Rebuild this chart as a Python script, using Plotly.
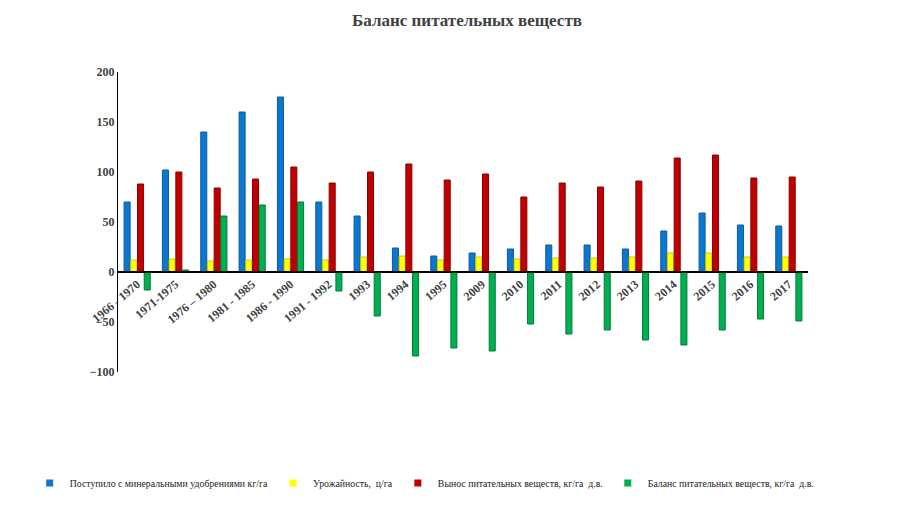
import plotly.graph_objects as go

categories = ["1966 - 1970", "1971-1975", "1976 – 1980", "1981 - 1985", "1986 - 1990",
              "1991 - 1992", "1993", "1994", "1995", "2009", "2010", "2011", "2012",
              "2013", "2014", "2015", "2016", "2017"]
applied = [70, 102, 140, 160, 175, 70, 56, 24, 16, 19, 23, 27, 27, 23, 41, 59, 47, 46]
yield_cha = [12, 13, 11, 12, 13, 12, 15, 16, 12, 15, 13, 14, 14, 15, 19, 19, 15, 15]
removal = [88, 100, 84, 93, 105, 89, 100, 108, 92, 98, 75, 89, 85, 91, 114, 117, 94, 95]
balance = [-18, 2, 56, 67, 70, -19, -44, -84, -76, -79, -52, -62, -58, -68, -73, -58, -47, -49]

names = ["Поступило с минеральными удобрениями кг/га", "Урожайность,  ц/га",
         "Вынос питательных веществ, кг/га  д.в.", "Баланс питательных веществ, кг/га  д.в."]
colors = ["#0B78D0", "#FFFF00", "#C00000", "#00B050"]
edges = ["#0A5A9C", "#C8C800", "#8A0000", "#007A38"]
series = [applied, yield_cha, removal, balance]

SERIF = "Liberation Serif"

fig = go.Figure()
for n, vals, c, e in zip(names, series, colors, edges):
    fig.add_trace(go.Bar(x=categories, y=vals, name=n, showlegend=False,
                         marker=dict(color=c, line=dict(color=e, width=1))))
# legend entries with small square keys
for n, c in zip(names, colors):
    fig.add_trace(go.Scatter(x=[None], y=[None], mode="markers", name=n,
                             marker=dict(symbol="square", size=7, color=c)))

fig.update_layout(
    width=918, height=530,
    paper_bgcolor="white", plot_bgcolor="white",
    margin=dict(l=110, r=118, t=64, b=166),
    barmode="group", bargap=0.3, bargroupgap=0.1,
    title=dict(text="<b>Баланс питательных веществ</b>", x=0.5, xanchor="center", y=0.977,
               yanchor="middle", font=dict(family=SERIF, size=17, color="#404040")),
    showlegend=True,
    legend=dict(orientation="h", x=-0.128, xanchor="left", y=-0.37, yanchor="middle",
                font=dict(family=SERIF, size=9.8, color="#222222"), itemwidth=30,
                tracegroupgap=0, traceorder="normal"),
    font=dict(family=SERIF),
)
fig.update_yaxes(range=[-100, 200], dtick=50, showgrid=False, zeroline=False,
                 showline=True, linecolor="black", linewidth=1,
                 tickfont=dict(family=SERIF, size=12, color="#404040"),
                 tickprefix="<b>", ticksuffix="</b>")
fig.update_xaxes(showgrid=False, showline=True, linecolor="black", linewidth=1.5,
                 anchor="free", position=1/3, tickangle=-40,
                 tickfont=dict(family=SERIF, size=12, color="#404040"),
                 tickprefix="<b>", ticksuffix="</b>")

fig.write_html("out.html")
